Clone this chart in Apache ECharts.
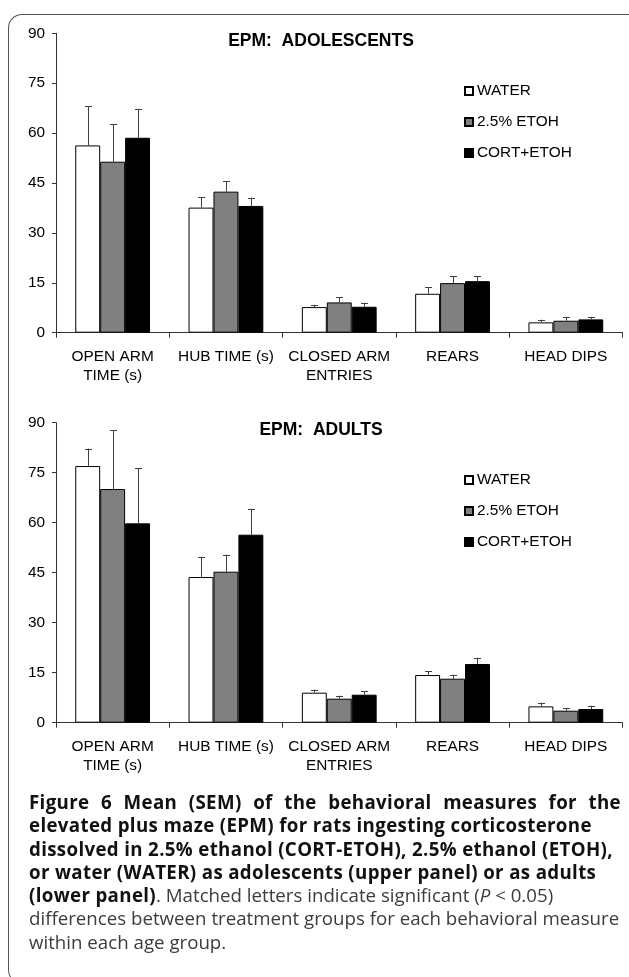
<!DOCTYPE html>
<html>
<head>
<meta charset="utf-8">
<script src="https://cdn.jsdelivr.net/npm/echarts@6/dist/echarts.min.js"></script>
<style>
  html, body { margin: 0; padding: 0; background: #fff; }
  body { width: 629px; height: 977px; position: relative; overflow: hidden; }
  #frame {
    position: absolute; left: 8px; top: 14px; width: 660px; height: 968px;
    border-left: 1.5px solid #555; border-top: 1.5px solid #555; border-bottom: 1.5px solid #555;
    border-top-left-radius: 14px; border-bottom-left-radius: 14px;
  }
  #chart { position: absolute; left: 0; top: 0; width: 629px; height: 790px; }
  #cap {
    position: absolute; left: 29px; top: 790px; width: 592px;
    font-family: "Open Sans", sans-serif; font-size: 18.7px; line-height: 23.3px; color: #3c3c3c;
  }
  #cap b { color: #111; letter-spacing: 0.35px; }
  #cap .j { text-align: justify; text-align-last: justify; }
  #cap div { white-space: nowrap; }
</style>
</head>
<body>
<div id="frame"></div>
<div id="chart"></div>
<div id="cap">
  <div class="j"><b>Figure 6 Mean (SEM) of the behavioral measures for the</b></div>
  <div><b>elevated plus maze (EPM) for rats ingesting corticosterone</b></div>
  <div><b>dissolved in 2.5% ethanol (CORT-ETOH), 2.5% ethanol (ETOH),</b></div>
  <div><b>or water (WATER) as adolescents (upper panel) or as adults</b></div>
  <div><b>(lower panel)</b>. Matched letters indicate significant (<i>P</i> &lt; 0.05)</div>
  <div>differences between treatment groups for each behavioral measure</div>
  <div>within each age group.</div>
</div>
<script>
// categories and groups
const categories = ['OPEN ARM\nTIME (s)', 'HUB TIME (s)', 'CLOSED ARM\nENTRIES', 'REARS', 'HEAD DIPS']
const groups = ['WATER', '2.5% ETOH', 'CORT+ETOH']
const yTicks = [0, 15, 30, 45, 60, 75, 90]

// adolescents: means and SEM
const adolWater = [56.3, 37.6, 7.7, 11.7, 3.1]
const adolEtoh = [51.4, 42.4, 9.1, 14.9, 3.6]
const adolCort = [58.6, 38.1, 7.8, 15.5, 4.0]
const adolWaterSem = [11.7, 3.2, 0.7, 2.0, 0.8]
const adolEtohSem = [11.2, 3.2, 1.5, 2.1, 1.2]
const adolCortSem = [8.7, 2.5, 1.2, 1.5, 0.8]

// adults: means and SEM
const adultWater = [77.0, 43.7, 9.0, 14.3, 4.9]
const adultEtoh = [70.1, 45.3, 7.2, 13.2, 3.6]
const adultCort = [59.8, 56.4, 8.4, 17.6, 4.1]
const adultWaterSem = [5.2, 6.1, 0.9, 1.2, 1.1]
const adultEtohSem = [17.7, 5.1, 0.9, 1.2, 0.8]
const adultCortSem = [16.5, 7.8, 1.0, 1.9, 1.0]

const colors = ['#ffffff', '#808080', '#000000']
const catGap = 0.34
const font = 'Liberation Sans'

const chart = echarts.init(document.getElementById('chart'), null, { renderer: 'canvas' })

function errorSeries(name, means, sems, order, gi) {
  return {
    name: name,
    type: 'custom',
    xAxisIndex: gi,
    yAxisIndex: gi,
    z: 3,
    silent: true,
    data: means.map((m, i) => [i, m, sems[i]]),
    encode: { x: 0, y: 1 },
    renderItem(params, api) {
      const idx = api.value(0)
      const m = api.value(1)
      const e = api.value(2)
      const catW = api.size([1, 0])[0]
      const barW = catW * (1 - catGap) / 3
      const base = api.coord([idx, m])
      const top = api.coord([idx, m + e])
      const x = Math.round(base[0] + (order - 1) * barW) + 0.5
      const style = { stroke: '#404040', lineWidth: 1 }
      return {
        type: 'group',
        children: [
          { type: 'line', shape: { x1: x, y1: base[1], x2: x, y2: top[1] }, style },
          { type: 'line', shape: { x1: x - 3.5, y1: Math.round(top[1]) + 0.5, x2: x + 3.5, y2: Math.round(top[1]) + 0.5 }, style }
        ]
      }
    }
  }
}

function barSeries(name, data, order, gi) {
  return {
    name: name,
    type: 'bar',
    xAxisIndex: gi,
    yAxisIndex: gi,
    barGap: '0%',
    barCategoryGap: (catGap * 100) + '%',
    itemStyle: { color: colors[order], borderColor: '#000', borderWidth: 1 },
    data: data
  }
}

function xAxis(gi) {
  return {
    type: 'category',
    gridIndex: gi,
    data: categories,
    axisLine: { lineStyle: { color: '#333', width: 1 } },
    axisTick: { show: true, length: 5, alignWithLabel: false, lineStyle: { color: '#333' } },
    axisLabel: { interval: 0, margin: 15, lineHeight: 19, color: '#000', fontSize: 15.4, fontFamily: font },
    splitLine: { show: false }
  }
}

function yAxis(gi) {
  return {
    type: 'value',
    gridIndex: gi,
    min: yTicks[0],
    max: yTicks[yTicks.length - 1],
    interval: 15,
    axisLine: { show: true, lineStyle: { color: '#333', width: 1 } },
    axisTick: { show: true, length: 4, lineStyle: { color: '#333' } },
    axisLabel: { margin: 11, color: '#000', fontSize: 15.4, fontFamily: font },
    splitLine: { show: false }
  }
}

function legend(top) {
  return {
    data: groups,
    orient: 'vertical',
    left: 464,
    top: top,
    padding: 0,
    itemWidth: 8,
    itemHeight: 8,
    itemGap: 15,
    icon: 'rect',
    selectedMode: false,
    textStyle: { fontSize: 15.4, lineHeight: 16, color: '#000', fontFamily: font, padding: [0, 0, 0, -1] }
  }
}

chart.setOption({
  animation: false,
  title: [
    { text: 'EPM:  ADOLESCENTS', left: 321, top: 32, textAlign: 'center', padding: 0,
      textStyle: { fontSize: 17.5, fontWeight: 'bold', color: '#000', fontFamily: font } },
    { text: 'EPM:  ADULTS', left: 321, top: 421.5, textAlign: 'center', padding: 0,
      textStyle: { fontSize: 17.5, fontWeight: 'bold', color: '#000', fontFamily: font } }
  ],
  legend: [legend(83), legend(472)],
  grid: [
    { left: 56, right: 6.5, top: 33.3, height: 299.4, outerBoundsMode: 'none' },
    { left: 56, right: 6.5, top: 422.7, height: 300, outerBoundsMode: 'none' }
  ],
  xAxis: [xAxis(0), xAxis(1)],
  yAxis: [yAxis(0), yAxis(1)],
  series: [
    barSeries(groups[0], adolWater, 0, 0),
    barSeries(groups[1], adolEtoh, 1, 0),
    barSeries(groups[2], adolCort, 2, 0),
    barSeries(groups[0], adultWater, 0, 1),
    barSeries(groups[1], adultEtoh, 1, 1),
    barSeries(groups[2], adultCort, 2, 1),
    errorSeries('adolWaterErr', adolWater, adolWaterSem, 0, 0),
    errorSeries('adolEtohErr', adolEtoh, adolEtohSem, 1, 0),
    errorSeries('adolCortErr', adolCort, adolCortSem, 2, 0),
    errorSeries('adultWaterErr', adultWater, adultWaterSem, 0, 1),
    errorSeries('adultEtohErr', adultEtoh, adultEtohSem, 1, 1),
    errorSeries('adultCortErr', adultCort, adultCortSem, 2, 1)
  ]
})
</script>
</body>
</html>
